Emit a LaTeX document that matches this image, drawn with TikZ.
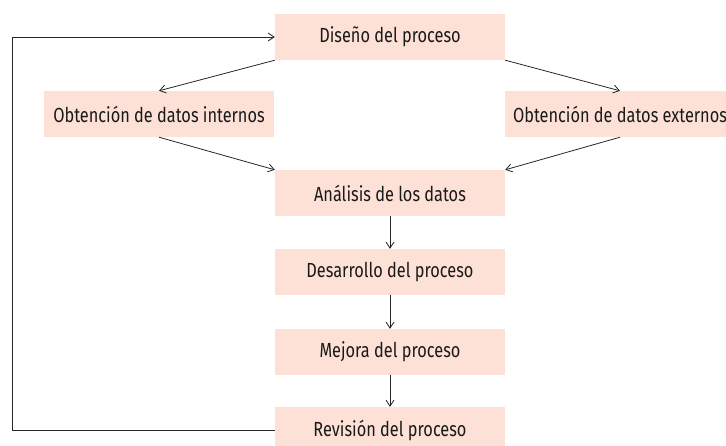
\documentclass[tikz,border=0pt]{standalone}
\usepackage{fontspec}
\setmainfont[FakeStretch=0.8]{Fira Sans}
\usetikzlibrary{arrows.meta}
\definecolor{boxfill}{RGB}{253,225,214}
\tikzset{
  stepbox/.style={fill=boxfill, minimum width=230pt, minimum height=46pt, inner sep=0pt, font=\fontsize{20.4}{24}\selectfont, text=black!90},
  conn/.style={draw=black!85, line width=0.8pt, -{Straight Barb[length=6pt,width=8pt]}}
}
\begin{document}
\begin{tikzpicture}[x=1pt,y=-1pt]
\useasboundingbox (0,0) rectangle (726,445);
\node[stepbox] (dis) at (390,37) {Diseño del proceso};
\node[stepbox] (int) at (159,114) {Obtención de datos internos};
\node[stepbox] (ext) at (620,114) {Obtención de datos externos};
\node[stepbox] (ana) at (390,193) {Análisis de los datos};
\node[stepbox] (des) at (390,272) {Desarrollo del proceso};
\node[stepbox] (mej) at (390,352) {Mejora del proceso};
\node[stepbox] (rev) at (390,430) {Revisión del proceso};
\coordinate (fbl) at (12,430);
\coordinate (fbt) at (12,37);
\draw[conn] (dis.south west) -- (int.north);
\draw[conn] (dis.south east) -- (ext.north);
\draw[conn] (int.south) -- (ana.north west);
\draw[conn] (ext.south) -- (ana.north east);
\draw[conn] (ana) -- (des);
\draw[conn] (des) -- (mej);
\draw[conn] (mej) -- (rev);
\draw[conn] (rev.west) -- (fbl) -- (fbt) -- (dis.west);
\end{tikzpicture}
\end{document}
